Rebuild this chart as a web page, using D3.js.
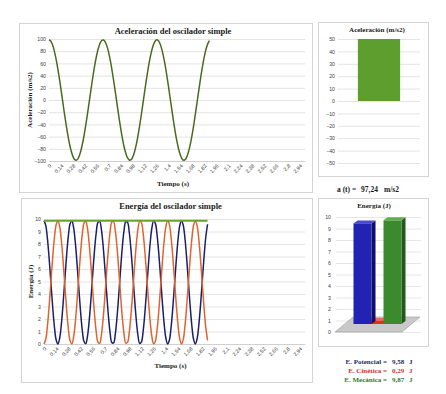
<!DOCTYPE html>
<html lang="es">
<head>
<meta charset="utf-8">
<title>Oscilador simple</title>
<script src="https://d3js.org/d3.v7.min.js"></script>
<style type="text/css">
  body { margin: 0; background: #fff; }
  text { font-family: "Liberation Serif", "Times New Roman", serif; }
  .tick-lbl { font-family: "Liberation Sans", Arial, sans-serif; font-size: 5.2px; fill: #404040; }
  .ttl { font-weight: bold; fill: #1a1a1a; }
</style>
</head>
<body>

<svg width="446" height="394" id="svg1"></svg>

<script>
// time step between samples (s)
var dt = 0.02;

// acceleration (m/s2), one value every dt, from t = 0 to 1.88 s
var aceleracion = [98.7, 96.8, 91.0, 81.7, 69.1, 53.9, 36.5, 17.7, -1.9, -21.3,
  -39.9, -56.9, -71.7, -83.7, -92.4, -97.4, -98.6, -96.0, -89.5, -79.5,
  -66.4, -50.7, -33.0, -14.0, 5.6, 24.9, 43.3, 60.0, 74.2, 85.6,
  93.6, 97.9, 98.4, 95.0, 87.9, 77.3, 63.6, 47.5, 29.5, 10.3,
  -9.3, -28.5, -46.6, -62.9, -76.6, -87.4, -94.7, -98.3, -98.1, -93.9,
  -86.1, -74.9, -60.7, -44.2, -25.9, -6.6, 13.0, 32.0, 49.8, 65.7,
  78.9, 89.1, 95.7, 98.6, 97.6, 92.7, 84.2, 72.4, 57.8, 40.8,
  22.3, 2.9, -16.7, -35.5, -53.0, -68.4, -81.1, -90.6, -96.6, -98.7,
  -97.0, -91.4, -82.2, -69.9, -54.7, -37.4, -18.6, 0.8, 20.3, 39.0,
  56.1, 71.1, 83.2, 92.0, 97.3];

// energies (J)
var ePotencial = [9.87, 9.49, 8.39, 6.76, 4.84, 2.94, 1.35, 0.32, 0.00, 0.46,
  1.61, 3.28, 5.21, 7.10, 8.65, 9.62, 9.86, 9.33, 8.12, 6.41,
  4.47, 2.60, 1.10, 0.20, 0.03, 0.63, 1.90, 3.64, 5.58, 7.43,
  8.88, 9.72, 9.81, 9.15, 7.82, 6.05, 4.10, 2.28, 0.88, 0.11,
  0.09, 0.82, 2.20, 4.00, 5.95, 7.74, 9.09, 9.80, 9.74, 8.94,
  7.51, 5.69, 3.74, 1.98, 0.68, 0.04, 0.17, 1.04, 2.52, 4.37,
  6.31, 8.04, 9.28, 9.85, 9.65, 8.71, 7.19, 5.31, 3.38, 1.69,
  0.50, 0.01, 0.28, 1.28, 2.85, 4.74, 6.66, 8.32, 9.45, 9.87,
  9.52, 8.46, 6.85, 4.94, 3.03, 1.42, 0.35, 0.00, 0.42, 1.54,
  3.19, 5.12, 7.01, 8.58, 9.58];

var eCinetica = [0.00, 0.38, 1.48, 3.11, 5.03, 6.93, 8.52, 9.55, 9.87, 9.41,
  8.26, 6.59, 4.66, 2.77, 1.22, 0.25, 0.01, 0.54, 1.75, 3.46,
  5.40, 7.27, 8.77, 9.67, 9.84, 9.24, 7.97, 6.23, 4.29, 2.44,
  0.99, 0.15, 0.06, 0.72, 2.05, 3.82, 5.77, 7.59, 8.99, 9.76,
  9.78, 9.05, 7.67, 5.87, 3.92, 2.13, 0.78, 0.07, 0.13, 0.93,
  2.36, 4.18, 6.13, 7.89, 9.19, 9.83, 9.70, 8.83, 7.35, 5.50,
  3.56, 1.83, 0.59, 0.02, 0.22, 1.16, 2.68, 4.56, 6.49, 8.18,
  9.37, 9.86, 9.59, 8.59, 7.02, 5.13, 3.21, 1.55, 0.42, 0.00,
  0.35, 1.41, 3.02, 4.93, 6.84, 8.45, 9.52, 9.87, 9.45, 8.33,
  6.68, 4.75, 2.86, 1.29, 0.29];

// mechanical energy is flat: first and last sample
var tMecanica = [0, 1.88];
var eMecanica = [9.87, 9.87];

var xTicks = ["0", "0,14", "0,28", "0,42", "0,56", "0,7", "0,84", "0,98", "1,12", "1,26", "1,4",
  "1,54", "1,68", "1,82", "1,96", "2,1", "2,24", "2,38", "2,52", "2,66", "2,8", "2,94"];
var accTicks = [-100, -80, -60, -40, -20, 0, 20, 40, 60, 80, 100];
var accBarTicks = [-50, -40, -30, -20, -10, 0, 10, 20, 30, 40, 50];
var enTicks = [0, 1, 2, 3, 4, 5, 6, 7, 8, 9, 10];

// current values (t = 1.88 s)
var aActual = 97.24;
var barCats = ["E. Potencial", "E. Cinética", "E. Mecánica"];
var barVals = [9.58, 0.29, 9.87];
var barLabels = ["9,58", "0,29", "9,87"];

var svg = d3.select("#svg1");

function panel(x, y, w, h) {
  svg.append("rect").attr("x", x + 0.5).attr("y", y + 0.5).attr("width", w).attr("height", h)
    .attr("fill", "#fff").attr("stroke", "#d4d4d4");
}

function lineChart(box, plot, yDomain, yTicks, title, yTitle, yTitleX, xTitleY) {
  panel(box.x, box.y, box.w, box.h);
  var x = d3.scaleLinear().domain([0, 3.0]).range([plot.left, plot.right]);
  var y = d3.scaleLinear().domain(yDomain).range([plot.bottom, plot.top]);
  var g = svg.append("g");

  g.append("g").attr("transform", `translate(${plot.left},0)`)
    .call(d3.axisLeft(y).tickValues(yTicks).tickSize(-(plot.right - plot.left)).tickPadding(3))
    .call(a => a.select(".domain").remove())
    .call(a => a.selectAll("line").attr("stroke", "#e4e4e4"))
    .call(a => a.selectAll("text").attr("class", "tick-lbl"));

  var tv = xTicks.map(s => +s.replace(",", "."));
  g.append("g").attr("transform", `translate(0,${plot.bottom})`)
    .call(d3.axisBottom(x).tickValues(tv).tickFormat((d, i) => xTicks[i]).tickSize(0))
    .call(a => a.select(".domain").attr("stroke", "#d0d0d0"))
    .call(a => a.selectAll("text").attr("class", "tick-lbl").attr("text-anchor", "end")
      .attr("y", 0).attr("dy", "0.35em").attr("transform", "translate(1,4) rotate(-45)"));

  g.append("text").attr("class", "ttl").attr("x", (plot.left + plot.right) / 2 - 4).attr("y", box.y + 11)
    .attr("text-anchor", "middle").attr("font-size", 8.5).text(title);
  g.append("text").attr("class", "ttl").attr("text-anchor", "middle").attr("font-size", 7)
    .attr("transform", `translate(${yTitleX},${(plot.top + plot.bottom) / 2}) rotate(-90)`)
    .text(yTitle);
  g.append("text").attr("class", "ttl").attr("x", (plot.left + plot.right) / 2 - 4).attr("y", xTitleY)
    .attr("text-anchor", "middle").attr("font-size", 7).text("Tiempo (s)");

  return {g: g, x: x, y: y};
}

function drawLine(c, vals, color, w) {
  var line = d3.line().x((d, i) => c.x(i * dt)).y(d => c.y(d)).curve(d3.curveCatmullRom);
  c.g.append("path").datum(vals).attr("d", line).attr("fill", "none")
    .attr("stroke", color).attr("stroke-width", w);
}

// ---- acceleration vs time
var c1 = lineChart({x: 19, y: 23, w: 293, h: 169}, {left: 49, right: 305, top: 39, bottom: 161},
  [-100, 100], accTicks, "Aceleración del oscilador simple", "Aceleración (m/s2)", 32, 186);
drawLine(c1, aceleracion, "#4a6a20", 1.5);

// ---- energy vs time
var c2 = lineChart({x: 21, y: 198, w: 291, h: 184}, {left: 44, right: 305, top: 219, bottom: 344},
  [0, 10], enTicks, "Energía del oscilador simple", "Energía (J)", 33, 368);
drawLine(c2, ePotencial, "#1b1f6b", 1.5);
drawLine(c2, eCinetica, "#e0632e", 1.5);
c2.g.append("path").datum(eMecanica)
  .attr("d", d3.line().x((d, i) => c2.x(tMecanica[i])).y(d => c2.y(d)))
  .attr("fill", "none").attr("stroke", "#6aa329").attr("stroke-width", 2);

// ---- acceleration bar
panel(318, 22, 110, 154);
var yA = d3.scaleLinear().domain([-50, 50]).range([163, 39]).clamp(true);
var g3 = svg.append("g");
g3.append("g").attr("transform", "translate(338,0)")
  .call(d3.axisLeft(yA).tickValues(accBarTicks).tickSize(-82).tickPadding(3))
  .call(a => a.select(".domain").remove())
  .call(a => a.selectAll("line").attr("stroke", "#e4e4e4"))
  .call(a => a.selectAll("text").attr("class", "tick-lbl"));
var xA = d3.scaleBand().domain(["a"]).range([338, 420]).padding(0.32);
g3.append("rect").attr("x", xA("a")).attr("width", xA.bandwidth())
  .attr("y", yA(aActual)).attr("height", yA(0) - yA(aActual)).attr("fill", "#5e9e2e");
g3.append("text").attr("class", "ttl").attr("x", 377).attr("y", 32).attr("text-anchor", "middle")
  .attr("font-size", 7).text("Aceleración (m/s2)");

var at = svg.append("text").attr("class", "ttl").attr("y", 192).attr("font-size", 7.5);
at.append("tspan").attr("x", 337).text("a (t) =");
at.append("tspan").attr("x", 361).text(d3.format(".2f")(aActual).replace(".", ","));
at.append("tspan").attr("x", 384).text("m/s2");

// ---- energy 3D bars
panel(318, 198, 110, 148);
var g4 = svg.append("g");
var yE = d3.scaleLinear().domain([0, 10]).range([332, 217]);
var yB = d3.scaleLinear().domain([0, 10]).range([324, 219]);
var xE = d3.scaleBand().domain(barCats).range([355, 400]);
var depth = {dx: 18, dy: -15};
var bd = {dx: 4, dy: -3};

g4.append("g").attr("transform", "translate(336,0)")
  .call(d3.axisLeft(yE).tickValues(enTicks).tickSize(-85).tickPadding(5))
  .call(a => a.select(".domain").remove())
  .call(a => a.selectAll("line").attr("stroke", "#e6e6e6"))
  .call(a => a.selectAll("text").attr("class", "tick-lbl"));

var f0 = 335, f1 = 402;
g4.append("polygon")
  .attr("points", [[f0, yE(0)], [f1, yE(0)], [f1 + depth.dx, yE(0) + depth.dy], [f0 + depth.dx, yE(0) + depth.dy]].join(" "))
  .attr("fill", "#c9c9c9").attr("stroke", "#9a9a9a").attr("stroke-width", 0.6);

var front = ["#2323b3", "#e2301c", "#3b8a2e"];
var side = ["#0f0f6a", "#8e1b10", "#22581b"];
var top3 = ["#4a4ad0", "#f06a55", "#5fae4e"];
var order = [1, 0, 2];
order.forEach(function(i) {
  var bw = 18;
  var x0 = xE(barCats[i]) + xE.bandwidth() / 2 - bw / 2, x1 = x0 + bw;
  var yt = yB(barVals[i]), yb = yB(0);
  g4.append("polygon").attr("points", [[x1, yt], [x1 + bd.dx, yt + bd.dy], [x1 + bd.dx, yb + bd.dy], [x1, yb]].join(" "))
    .attr("fill", side[i]);
  g4.append("polygon").attr("points", [[x0, yt], [x0 + bd.dx, yt + bd.dy], [x1 + bd.dx, yt + bd.dy], [x1, yt]].join(" "))
    .attr("fill", top3[i]);
  g4.append("rect").attr("x", x0).attr("y", yt).attr("width", bw).attr("height", yb - yt).attr("fill", front[i]);
});

g4.append("text").attr("class", "ttl").attr("x", 374).attr("y", 208).attr("text-anchor", "middle")
  .attr("font-size", 7).text("Energía (J)");

// legend with current values
var legColors = ["#1f2a6b", "#c8362a", "#2e7d32"];
barCats.forEach(function(c, i) {
  var yy = 364 + i * 9;
  var col = legColors[i];
  svg.append("text").attr("class", "ttl").attr("x", 387).attr("y", yy).attr("text-anchor", "end")
    .attr("font-size", 7).style("fill", col).text(c + " =");
  svg.append("text").attr("class", "ttl").attr("x", 392).attr("y", yy)
    .attr("font-size", 7).style("fill", col).text(barLabels[i]);
  svg.append("text").attr("class", "ttl").attr("x", 409).attr("y", yy)
    .attr("font-size", 7).style("fill", col).text("J");
});
</script>

</body>
</html>
